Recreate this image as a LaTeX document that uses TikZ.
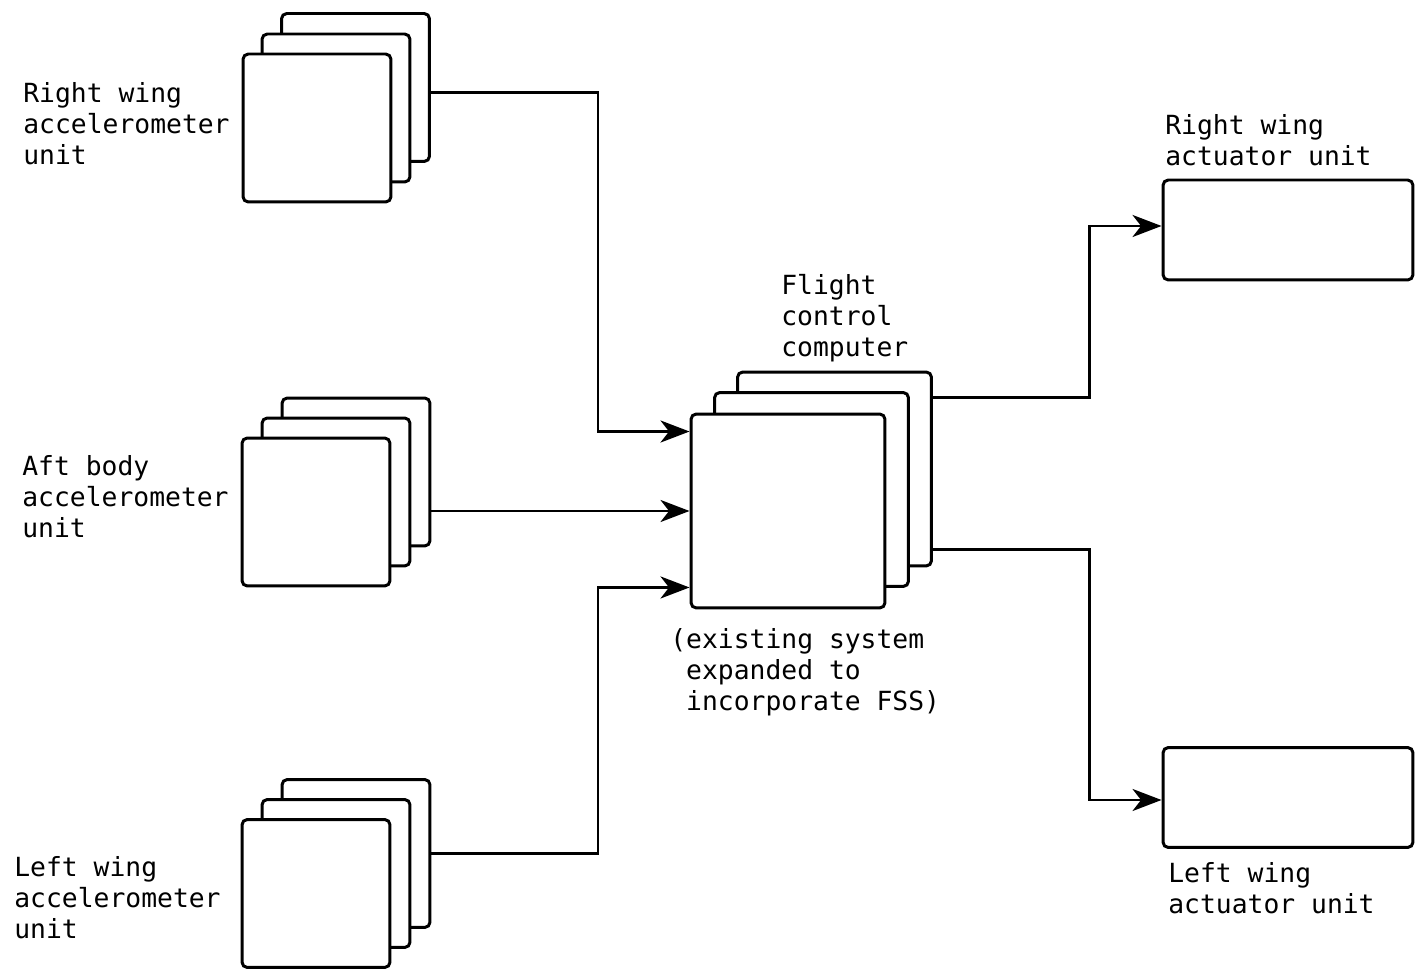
\documentclass[tikz,border=0pt]{standalone}
\usepackage{fontspec}
\setmonofont{DejaVu Sans Mono}
\usetikzlibrary{arrows.meta, positioning}
\tikzset{
  card/.style={rectangle, rounded corners=3pt, draw=black, line width=1.7pt, fill=white, inner sep=0pt},
  acc/.style={card, minimum width=2.96cm, minimum height=2.96cm},
  cpu/.style={card, minimum width=3.88cm, minimum height=3.88cm},
  act/.style={card, minimum width=5cm, minimum height=2cm},
  lbl/.style={anchor=west, align=left, inner sep=0pt, font=\ttfamily\fontsize{15}{17.6}\selectfont},
  arr/.style={-{Stealth[length=0.58cm, width=0.44cm, inset=0.17cm]}, line width=1.7pt},
}

\begin{document}
\begin{tikzpicture}[x=0.02cm, y=-0.02cm]
\useasboundingbox (0,0) rectangle (1417,972);
% ---- accelerometer units (three cards each) ----
\node[acc] (rwacc3) at (355.5,87.5) {};
\node[acc] (rwacc2) at (336,108) {};
\node[acc] (rwacc)  at (317,128) {};
\node[acc] (abacc3) at (356,472) {};
\node[acc] (abacc2) at (336,492) {};
\node[acc] (abacc)  at (316,512) {};
\node[acc] (lwacc3) at (356,853.5) {};
\node[acc] (lwacc2) at (336,873.5) {};
\node[acc] (lwacc)  at (316,893.5) {};
% ---- flight control computer ----
\node[cpu] (fcc3) at (834.5,469) {};
\node[cpu] (fcc2) at (811.5,489.5) {};
\node[cpu] (fcc)  at (788,511) {};
% ---- actuator units ----
\node[act] (rwact) at (1288,230) {};
\node[act] (lwact) at (1288,797.5) {};
% ---- labels ----
\node[lbl] (rwacclbl) at (23,124) {Right wing\\accelerometer\\unit};
\node[lbl] (abacclbl) at (22,497) {Aft body\\accelerometer\\unit};
\node[lbl] (lwacclbl) at (14,898) {Left wing\\accelerometer\\unit};
\node[lbl] (fcclbl) at (781,318) {Flight\\control\\computer};
\node[lbl] (fccnote) at (670,672) {(existing system\\\hphantom{(}expanded to\\\hphantom{(}incorporate FSS)};
\node[lbl] (rwactlbl) at (1165,140) {Right wing\\actuator unit};
\node[lbl] (lwactlbl) at (1168,888) {Left wing\\actuator unit};
% ---- connectors ----
\coordinate (inbus) at (598,0);
\coordinate (outbus) at (1089,0);
\coordinate (rwin) at ([yshift=-0.38cm]fcc.north west);
\coordinate (lwin) at ([yshift=0.44cm]fcc.south west);
\coordinate (rwout) at ([yshift=-0.1cm]rwacc3.east);
\coordinate (fccup) at ([yshift=-0.54cm]fcc3.north east);
\coordinate (fcclo) at ([yshift=0.36cm]fcc3.south east);
\coordinate (rwactin) at ([yshift=0.08cm]rwact.west);
\coordinate (lwactin) at ([yshift=-0.05cm]lwact.west);
\draw[arr] (rwout) -| (inbus |- rwin) -- (rwin);
\draw[arr] (abacc3.east |- fcc.west) -- (fcc.west);
\draw[arr] (lwacc3.east) -| (inbus |- lwin) -- (lwin);
\draw[arr] (fccup) -| (outbus |- rwactin) -- (rwactin);
\draw[arr] (fcclo) -| (outbus |- lwactin) -- (lwactin);
\end{tikzpicture}
\end{document}
